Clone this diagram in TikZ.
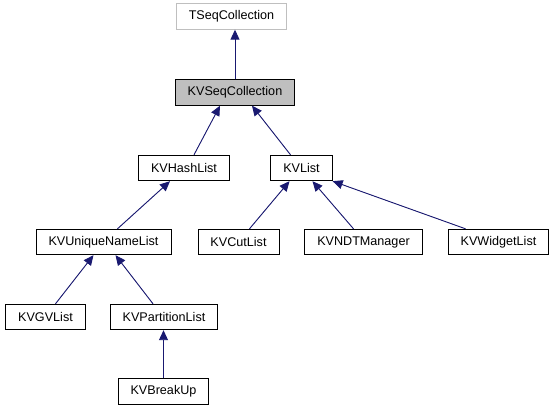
\documentclass[tikz,border=0pt]{standalone}
\usepackage{fontspec}
\setmainfont{Liberation Sans}
\usepackage{tikz}
\usetikzlibrary{arrows.meta, positioning}
\definecolor{cEdge}{RGB}{25,25,112}
\definecolor{cGrayBox}{RGB}{191,191,191}
\tikzset{
	cls/.style     ={rectangle, draw=black, line width=0.9pt, minimum height=25.5pt, inner xsep=12.5pt, text centered, fill=white},
	extcls/.style  ={cls, draw=cGrayBox},
	curcls/.style  ={cls, fill=cGrayBox},
	inh/.style     ={-{Triangle[length=10pt, width=9pt]}, line width=0.9pt, draw=cEdge, fill=cEdge},
}

\begin{document}
\begin{tikzpicture}[x=1pt, y=-1pt, every node/.style={font=\fontsize{12.6}{14}\selectfont}]
	\useasboundingbox (0,0) rectangle (555,411);
	% top of the hierarchy
	\node[extcls] (tseq) at (231.5,16.5) {TSeqCollection};
	\node[curcls] (seq) at (235,92.5) {KVSeqCollection};
	% second level
	\node[cls] (hash) at (184,168) {KVHashList};
	\node[cls] (list) at (301.5,168) {KVList};
	% third level
	\node[cls] (uniq) at (103.5,242) {KVUniqueNameList};
	\node[cls] (cut) at (238.5,242) {KVCutList};
	\node[cls] (ndt) at (363.5,242) {KVNDTManager};
	\node[cls] (widget) at (498.5,242) {KVWidgetList};
	% fourth level
	\node[cls] (gv) at (45.5,317) {KVGVList};
	\node[cls] (part) at (164,317) {KVPartitionList};
	\node[cls] (brk) at (163.5,391.5) {KVBreakUp};
	% inheritance arrows
	\draw[inh] (seq.north) -- (seq.north |- tseq.south);
	\draw[inh] ([xshift=10pt]hash.north) -- ([xshift=-15pt]seq.south);
	\draw[inh] ([xshift=-11pt]list.north) -- ([xshift=17pt]seq.south);
	\draw[inh] ([xshift=14pt]uniq.north) -- ([xshift=-14pt]hash.south);
	\draw[inh] ([xshift=11pt]cut.north) -- ([xshift=-12pt]list.south);
	\draw[inh] ([xshift=-10pt]ndt.north) -- ([xshift=11pt]list.south);
	\draw[inh] ([xshift=-33pt]widget.north) -- (list.south east);
	\draw[inh] ([xshift=10pt]gv.north) -- ([xshift=-10pt]uniq.south);
	\draw[inh] ([xshift=-11pt]part.north) -- ([xshift=12pt]uniq.south);
	\draw[inh] (brk.north) -- (brk.north |- part.south);
\end{tikzpicture}
\end{document}
